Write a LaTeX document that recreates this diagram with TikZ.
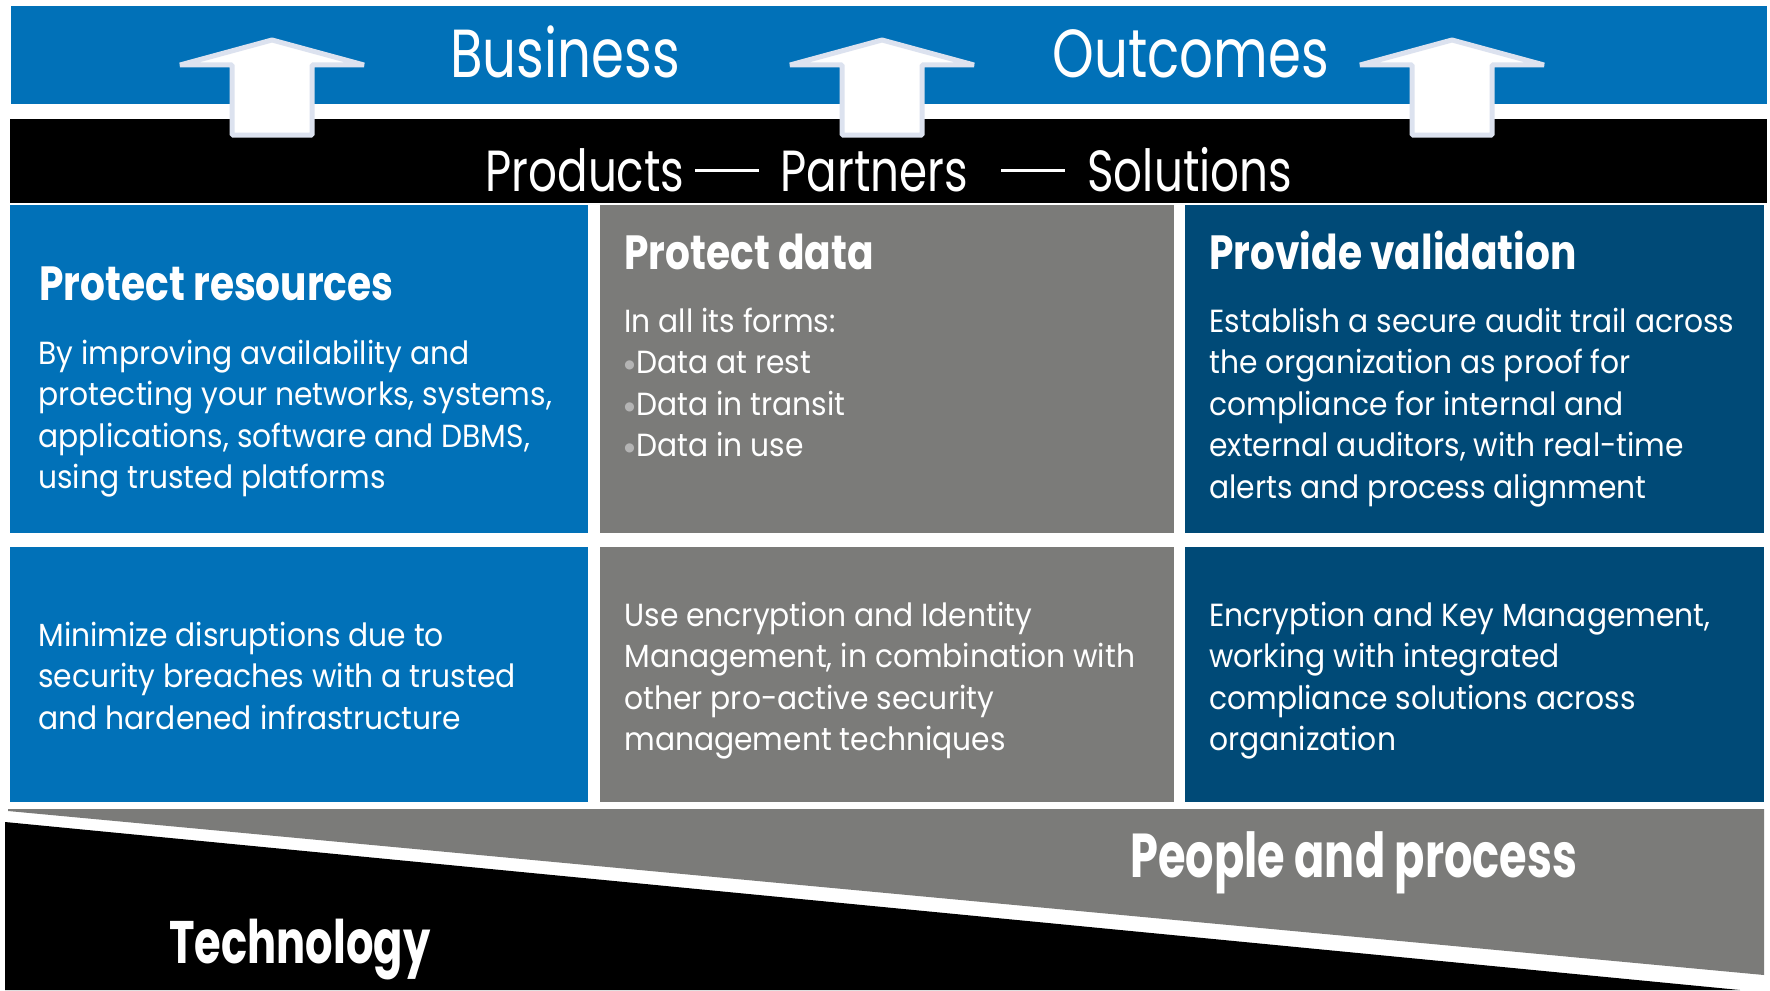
\documentclass[tikz,border=0pt]{standalone}
\usepackage{fontspec}
\usepackage{graphicx}
\setmainfont{Poppins}[FakeStretch=0.93]
\newfontfamily\topfont{Poppins}[FakeStretch=0.78]
\newfontfamily\headfont{Poppins}[FakeStretch=0.815]
\newfontfamily\condfont{Poppins}[FakeStretch=0.72]
\newfontfamily\symfont{DejaVu Sans}
\definecolor{hpblue}{HTML}{0171B8}
\definecolor{hpdark}{HTML}{004A77}
\definecolor{hpgray}{HTML}{7B7B79}
\definecolor{arrowedge}{HTML}{DCE2EF}
\definecolor{bulgray}{HTML}{B4B4B4}
\newcommand\blk[1]{\vtop{\halign{##\hfil\cr#1\crcr}}}
\newcommand\bul{{\color{bulgray}\raisebox{2.6pt}{\symfont\fontsize{6}{6}\selectfont ●}}\hspace{0.6pt}}
\begin{document}
\begin{tikzpicture}[x=0.5pt,y=-0.5pt,
  txt/.style={text=white, inner sep=0pt, anchor=base west},
  body/.style={txt, font=\fontsize{16}{20.8}\selectfont},
  head/.style={txt, font=\headfont\bfseries\fontsize{24}{28}\selectfont},
  big/.style={txt, font=\topfont\fontsize{34}{40}\selectfont},
  mid/.style={txt, font=\topfont\fontsize{29}{35}\selectfont},
  cond/.style={txt, font=\condfont\bfseries\fontsize{31}{36}\selectfont},
  upar/.style={fill=white, draw=arrowedge, line width=2.5pt, line join=bevel},
  uparr/.pic={\draw[upar] (0,-95) -- (92,-70) -- (40,-70) -- (40,0) -- (-40,0) -- (-40,-70) -- (-92,-70) -- cycle;}
]
\useasboundingbox (0,0) rectangle (1770,990);
\fill[white] (0,0) rectangle (1770,990);
% bands
\fill[hpblue] (11,6) rectangle (1767,104);
\fill[black] (10,119) rectangle (1767,203);
% cells
\fill[hpblue] (10,205) rectangle (588,533);
\fill[hpgray] (600,205) rectangle (1174,533);
\fill[hpdark] (1185,205) rectangle (1764,533);
\fill[hpblue] (10,547) rectangle (588,802);
\fill[hpgray] (600,547) rectangle (1174,802);
\fill[hpdark] (1185,547) rectangle (1764,802);
% bottom wedges
\fill[hpgray] (8,809) -- (1764,809) -- (1764,975) -- (8,811) -- cycle;
\fill[black] (5,822) -- (1740,990) -- (5,990) -- cycle;
% arrows
\pic at (272,135) {uparr};
\pic at (882,135) {uparr};
\pic at (1452,135) {uparr};
% texts
\node[big] (bus) at (450,78) {Business};
\node[big] (out) at (1052,78) {Outcomes};
\node[mid] (prod) at (485,191) {Products};
\node[mid] (d1) at (695,191) {\rule[9.5pt]{32pt}{1.6pt}};
\node[mid] (part) at (780,191) {Partners};
\node[mid] (d2) at (1001,191) {\rule[9.5pt]{32pt}{1.6pt}};
\node[mid] (sol) at (1087,191) {Solutions};

\node[head] (h1) at (39,300) {Protect resources};
\node[body] (t1) at (38,364) {\blk{By improving availability and\cr protecting your networks, systems,\cr applications, software and DBMS,\cr using trusted platforms}};
\node[head] (h2) at (624,269) {Protect data};
\node[body] (t2) at (624,332) {\blk{In all its forms:\cr \bul Data at rest\cr \bul Data in transit\cr \bul Data in use}};
\node[head] (h3) at (1209,269) {Provide validation};
\node[body] (t3) at (1209,332) {\blk{Establish a secure audit trail across\cr the organization as proof for\cr compliance for internal and\cr external auditors, with real-time\cr alerts and process alignment}};

\node[body] (t4) at (38,646) {\blk{Minimize disruptions due to\cr security breaches with a trusted\cr and hardened infrastructure}};
\node[body] (t5) at (624,626) {\blk{Use encryption and Identity\cr Management, in combination with\cr other pro-active security\cr management techniques}};
\node[body] (t6) at (1209,626) {\blk{Encryption and Key Management,\cr working with integrated\cr compliance solutions across\cr organization}};

\node[cond] (pp) at (1130,877) {People and process};
\node[cond, font=\condfont\bfseries\fontsize{30}{36}\selectfont] (tech) at (169,963) {Technology};
\end{tikzpicture}
\end{document}
